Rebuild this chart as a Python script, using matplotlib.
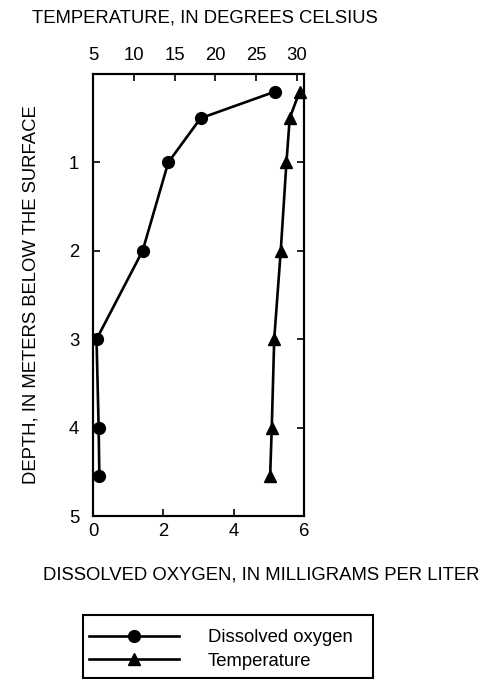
import matplotlib as mpl
import matplotlib.pyplot as plt
from matplotlib.patches import Rectangle

mpl.rcParams["font.family"] = ["Liberation Sans", "DejaVu Sans"]
mpl.rcParams["font.size"] = 13.3

# Depth profile values
depth_m = [0.2, 0.5, 1.0, 2.0, 3.0, 4.0, 4.55]
oxygen_mgl = [5.17, 3.06, 2.14, 1.41, 0.10, 0.16, 0.18]
temperature_c = [30.3, 29.1, 28.7, 28.0, 27.2, 26.9, 26.7]

oxygen_ticks = [0, 2, 4, 6]
temp_ticks = [5, 10, 15, 20, 25, 30]
depth_ticks = [1, 2, 3, 4, 5]

fig = plt.figure(figsize=(4.85, 6.79), dpi=100)
ax = fig.add_axes([0.1918, 0.240, 0.435, 0.651])
ax_top = ax.twiny()

line_kw = dict(color="black", linewidth=1.9, markersize=8.5)
(do_line,) = ax.plot(oxygen_mgl, depth_m, marker="o", label="Dissolved oxygen", **line_kw)
(t_line,) = ax_top.plot(temperature_c, depth_m, marker="^", label="Temperature",
                        clip_on=False, **line_kw)

ax.set_xlim(0, 6)
ax.set_ylim(5, 0)
ax_top.set_xlim(5, 30.85)

ax.set_xticks(oxygen_ticks)
ax.set_yticks(depth_ticks)
ax_top.set_xticks(temp_ticks)

for spine in list(ax.spines.values()) + list(ax_top.spines.values()):
    spine.set_linewidth(1.5)

ax.tick_params(axis="x", direction="in", length=5, width=1.2, pad=5)
ax.tick_params(axis="y", direction="in", length=5, width=1.2, pad=10,
               right=True)
ax_top.tick_params(axis="x", direction="in", length=5, width=1.2, pad=7)

fig.text(0.4216, 0.973, "TEMPERATURE, IN DEGREES CELSIUS", ha="center", va="center")
fig.text(0.064, 0.566, "DEPTH, IN METERS BELOW THE SURFACE", ha="center",
         va="center", rotation=90)
fig.text(0.539, 0.153, "DISSOLVED OXYGEN, IN MILLIGRAMS PER LITER",
         ha="center", va="center")

# Legend box
fig.patches.append(Rectangle((83 / 485, 1 - 678 / 679), 290 / 485, 63 / 679,
                             transform=fig.transFigure, fill=False,
                             edgecolor="black", linewidth=1.5))
fig.legend(handles=[do_line, t_line], loc="center left",
           bbox_to_anchor=(0.1485, 0.0434), frameon=False,
           handlelength=4.87, handletextpad=1.57, labelspacing=0.36)

fig.savefig("out.png", dpi=100)
